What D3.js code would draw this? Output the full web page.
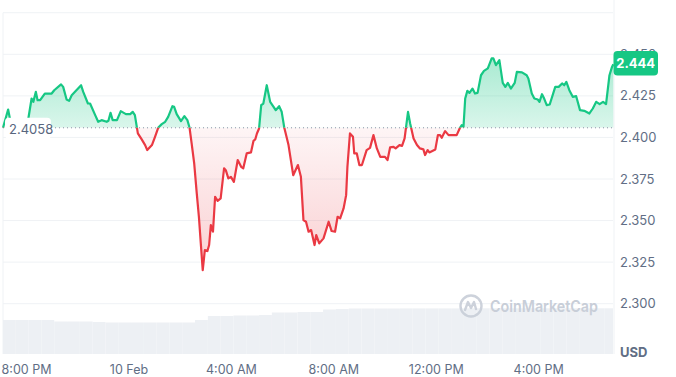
<!DOCTYPE html>
<html>
<head>
<meta charset="utf-8">
<script src="https://cdn.jsdelivr.net/npm/d3@7"></script>
<style>
  body { margin: 0; background: #fff; }
  svg { display: block; font-family: Inter, "Noto Sans", sans-serif; }
</style>
</head>
<body>
<div id="chart"></div>
<script>
// minutes after 9 Feb 19:06, and price in USD
const minutes = [0,12,16,26,40,56,67,71,77,81,87,98,114,120,136,141,149,155,161,183,188,199,204,216,223,231,243,247,252,257,267,276,288,298,304,309,316,325,333,338,349,356,364,372,380,387,397,401,407,417,425,432,437,442,448,454,459,464,468,473,479,483,487,492,497,503,510,518,522,528,534,541,550,558,563,571,581,587,591,595,600,605,610,618,622,626,634,639,647,653,659,669,680,691,698,704,710,716,722,730,734,741,751,763,770,778,784,790,798,804,807,813,820,823,829,835,841,852,860,868,876,884,895,901,907,915,920,929,935,941,949,954,962,970,977,985,989,995,999,1013,1019,1024,1028,1036,1044,1063,1070,1075,1079,1083,1088,1093,1100,1106,1112,1120,1127,1136,1145,1149,1155,1163,1171,1177,1183,1190,1199,1204,1216,1227,1231,1239,1245,1253,1257,1263,1268,1274,1281,1294,1302,1310,1315,1320,1327,1335,1343,1352,1362,1374,1382,1390,1398,1406,1413,1421,1427,1430];
const prices = [2.4058,2.4168,2.4116,2.4086,2.4072,2.4060,2.4234,2.4214,2.4274,2.4224,2.4224,2.4264,2.4264,2.4284,2.4319,2.4304,2.4228,2.4220,2.4254,2.4314,2.4274,2.4204,2.4204,2.4134,2.4094,2.4104,2.4094,2.4100,2.4148,2.4104,2.4104,2.4158,2.4140,2.4140,2.4154,2.4134,2.4024,2.3988,2.3954,2.3924,2.3954,2.4002,2.4060,2.4080,2.4094,2.4124,2.4188,2.4184,2.4140,2.4098,2.4128,2.4104,2.4060,2.3964,2.3844,2.3663,2.3523,2.3343,2.3202,2.3323,2.3317,2.3353,2.3473,2.3433,2.3643,2.3619,2.3633,2.3814,2.3803,2.3754,2.3763,2.3733,2.3864,2.3823,2.3814,2.3904,2.3910,2.3980,2.3988,2.4024,2.4054,2.4194,2.4204,2.4314,2.4264,2.4214,2.4184,2.4164,2.4188,2.4154,2.4060,2.3954,2.3773,2.3834,2.3763,2.3503,2.3493,2.3433,2.3443,2.3353,2.3413,2.3363,2.3393,2.3493,2.3437,2.3433,2.3523,2.3513,2.3573,2.3653,2.3823,2.4024,2.4004,2.3904,2.3904,2.3834,2.3834,2.3924,2.3937,2.4014,2.3934,2.3883,2.3883,2.3864,2.3940,2.3943,2.3934,2.3954,2.3949,2.3994,2.4154,2.4084,2.3994,2.3954,2.3934,2.3928,2.3894,2.3924,2.3910,2.3928,2.4014,2.4014,2.3998,2.4038,2.4014,2.4014,2.4054,2.4074,2.4064,2.4234,2.4280,2.4268,2.4294,2.4264,2.4268,2.4374,2.4400,2.4415,2.4475,2.4475,2.4435,2.4465,2.4328,2.4304,2.4328,2.4294,2.4328,2.4394,2.4391,2.4374,2.4355,2.4264,2.4234,2.4228,2.4214,2.4260,2.4234,2.4194,2.4198,2.4304,2.4304,2.4325,2.4314,2.4334,2.4284,2.4244,2.4248,2.4164,2.4160,2.4144,2.4174,2.4214,2.4200,2.4214,2.4200,2.4374,2.4424,2.4440];
// half-hour volume bars (billions USD, read roughly)
const volumes = [3.4,3.4,3.4,3.4,3.25,3.25,3.25,3.2,3.15,3.15,3.15,3.15,3.15,3.15,3.15,3.4,3.8,3.8,3.85,3.85,3.9,4.15,4.15,4.2,4.2,4.45,4.5,4.55,4.55,4.55,4.55,4.56,4.56,4.56,4.56,4.56,4.57,4.57,4.57,4.57,4.57,4.57,4.57,4.57,4.57,4.57,4.57,4.57];
const yTicks = [2.300,2.325,2.350,2.375,2.400,2.425,2.450,2.475];
const openPrice = 2.4058;
const lastPrice = 2.444;

const w = 676, h = 377;
const start = new Date(2025, 1, 9, 19, 6);
const t = m => new Date(start.getTime() + m * 60000);
const data = minutes.map((m, i) => ({date: t(m), price: prices[i]}));

const x = d3.scaleTime().domain([start, t(1430)]).range([3, 613.3]);
const y = d3.scaleLinear().domain([2.3, 2.45]).range([303.7, 54.3]);
const yVol = d3.scaleLinear().domain([0, 5]).range([354, 304]);
const baseY = y(openPrice);

const green = "#16c784", red = "#ea3943", grid = "#eff2f5", axisText = "#616e85";

const svg = d3.select("#chart").append("svg").attr("width", w).attr("height", h);
const defs = svg.append("defs");

const gGrad = defs.append("linearGradient").attr("id", "gGrad")
  .attr("gradientUnits", "userSpaceOnUse").attr("x1", 0).attr("x2", 0)
  .attr("y1", y(2.45)).attr("y2", baseY);
gGrad.append("stop").attr("offset", 0).attr("stop-color", green).attr("stop-opacity", 0.38);
gGrad.append("stop").attr("offset", 1).attr("stop-color", green).attr("stop-opacity", 0.16);

const rGrad = defs.append("linearGradient").attr("id", "rGrad")
  .attr("gradientUnits", "userSpaceOnUse").attr("x1", 0).attr("x2", 0)
  .attr("y1", baseY).attr("y2", y(2.32));
rGrad.append("stop").attr("offset", 0).attr("stop-color", red).attr("stop-opacity", 0.05);
rGrad.append("stop").attr("offset", 1).attr("stop-color", red).attr("stop-opacity", 0.24);

defs.append("clipPath").attr("id", "above").append("rect")
  .attr("x", 0).attr("y", 0).attr("width", w).attr("height", baseY);
defs.append("clipPath").attr("id", "below").append("rect")
  .attr("x", 0).attr("y", baseY).attr("width", w).attr("height", h - baseY);

// grid
svg.append("g").selectAll("line").data(yTicks).enter().append("line")
  .attr("x1", 3).attr("x2", 613).attr("y1", d => y(d)).attr("y2", d => y(d))
  .attr("stroke", grid).attr("stroke-width", 1);
svg.append("line").attr("x1", 3).attr("x2", 3).attr("y1", y(2.475)).attr("y2", 354)
  .attr("stroke", grid);
svg.append("line").attr("x1", 614).attr("x2", 614).attr("y1", 0).attr("y2", 354)
  .attr("stroke", grid);

// volume
const barStarts = volumes.map((v, i) => t(i * 30));
svg.append("g").selectAll("rect").data(volumes).enter().append("rect")
  .attr("x", (d, i) => x(barStarts[i]))
  .attr("width", (d, i) => Math.min(x(t((i + 1) * 30)), 613) - x(barStarts[i]))
  .attr("y", d => yVol(d))
  .attr("height", d => 354 - yVol(d))
  .attr("fill", "#edf0f4");

// watermark
const wm = svg.append("g").attr("transform", "translate(471,306)").attr("opacity", 0.9);
wm.append("circle").attr("r", 10.5).attr("fill", "none").attr("stroke", "#c8ced8").attr("stroke-width", 2.4);
wm.append("path").attr("d", "M-6,4 L-3,-4 L0,2 L3,-4 L5,3")
  .attr("fill", "none").attr("stroke", "#c8ced8").attr("stroke-width", 2.4)
  .attr("stroke-linejoin", "round").attr("stroke-linecap", "round");
svg.append("text").attr("x", 490).attr("y", 312)
  .attr("font-size", 16.5).attr("font-weight", 600).attr("fill", "#c8ced8")
  .attr("textLength", 108).attr("lengthAdjust", "spacingAndGlyphs")
  .text("CoinMarketCap");

// areas
const area = d3.area().x(d => x(d.date)).y0(baseY).y1(d => y(d.price));
const line = d3.line().x(d => x(d.date)).y(d => y(d.price));

svg.append("path").datum(data).attr("d", area).attr("fill", "url(#gGrad)").attr("clip-path", "url(#above)");
svg.append("path").datum(data).attr("d", area).attr("fill", "url(#rGrad)").attr("clip-path", "url(#below)");

// baseline
svg.append("line").attr("x1", 3).attr("x2", 613).attr("y1", baseY).attr("y2", baseY)
  .attr("stroke", "#8a93a6").attr("stroke-width", 1).attr("stroke-dasharray", "1,3");

svg.append("path").datum(data).attr("d", line).attr("fill", "none")
  .attr("stroke", green).attr("stroke-width", 2.2).attr("stroke-linejoin", "round")
  .attr("clip-path", "url(#above)");
svg.append("path").datum(data).attr("d", line).attr("fill", "none")
  .attr("stroke", red).attr("stroke-width", 2.2).attr("stroke-linejoin", "round")
  .attr("clip-path", "url(#below)");

// open price label
svg.append("rect").attr("x", 5).attr("y", baseY - 10).attr("width", 46).attr("height", 21)
  .attr("rx", 4).attr("fill", "#fff");
svg.append("text").attr("x", 9).attr("y", baseY + 2).attr("dy", "0.35em")
  .attr("font-size", 13).attr("fill", "#58667e").text(openPrice.toFixed(4));

// y labels (2.450 sits behind the badge, only its top peeks out)
svg.append("g").selectAll("text").data(yTicks.slice(0, 7)).enter().append("text")
  .attr("x", 620).attr("y", d => y(d)).attr("dy", "0.35em")
  .attr("font-size", 13).attr("fill", axisText).text(d => d.toFixed(3));

svg.append("text").attr("x", 620).attr("y", 352).attr("dy", "0.35em")
  .attr("font-size", 13).attr("font-weight", 700).attr("fill", axisText).text("USD");

// last price badge
svg.append("rect").attr("x", 613.5).attr("y", 51).attr("width", 44.5).attr("height", 24.5)
  .attr("rx", 4).attr("fill", green);
svg.append("text").attr("x", 635.7).attr("y", 63.5).attr("dy", "0.35em")
  .attr("text-anchor", "middle").attr("font-size", 13).attr("font-weight", 700)
  .attr("fill", "#fff").text(lastPrice.toFixed(3));

// x axis
const fmt = d => d.getHours() === 0 ? d3.timeFormat("%-d %b")(d) : d3.timeFormat("%-I:%M %p")(d);
const xAxis = svg.append("g").attr("transform", "translate(0,354)")
  .call(d3.axisBottom(x).ticks(d3.timeHour.every(4)).tickFormat(fmt).tickSize(0).tickPadding(11));
xAxis.select(".domain").remove();
xAxis.selectAll("text").attr("font-size", 12.5).attr("fill", axisText).attr("font-family", "Inter, sans-serif");
</script>
</body>
</html>
